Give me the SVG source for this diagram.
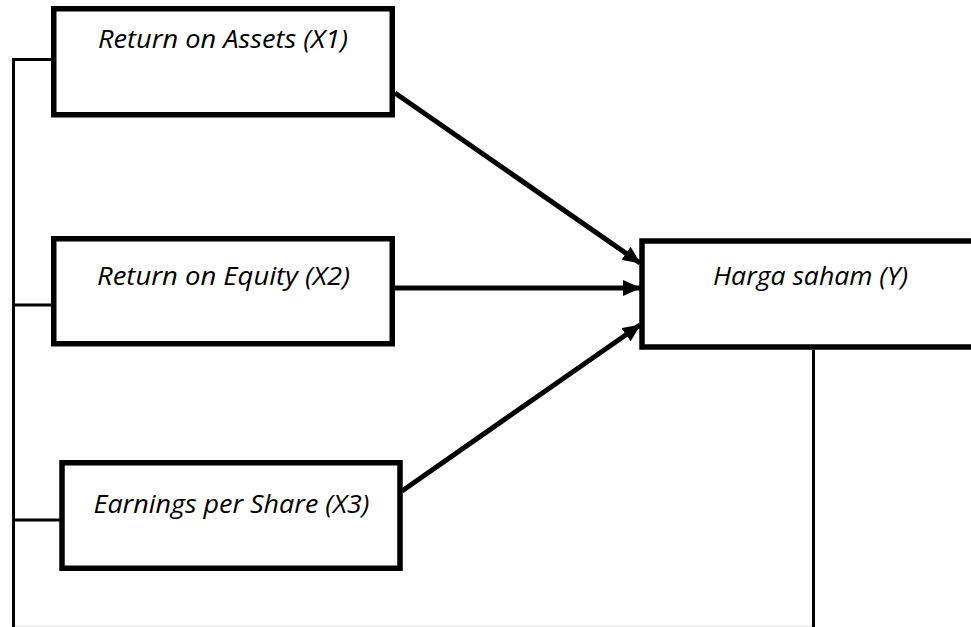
<svg xmlns="http://www.w3.org/2000/svg" width="971" height="627" viewBox="0 0 971 627">
  <style>
    .box { fill: #ffffff; stroke: #000000; stroke-width: 5.5; }
    .lbl { font-family: "Open Sans", "Liberation Sans", sans-serif; font-style: italic; font-size: 26px; fill: #000000; }
    .thin { fill: none; stroke: #000000; stroke-width: 3; }
    .arrow { fill: none; stroke: #000000; stroke-width: 5; marker-end: url(#head); }
  </style>
  <defs>
    <marker id="head" markerUnits="userSpaceOnUse" markerWidth="18" markerHeight="16" viewBox="0 0 18 16" refX="17" refY="8" orient="auto">
      <path d="M0,0 L18,8 L0,16 Z" fill="#000000"/>
    </marker>
  </defs>
  <rect width="971" height="627" fill="#ffffff"/>
  <line x1="15" y1="626" x2="812" y2="626" stroke="#e8e8e8" stroke-width="1.5"/>

  <g id="connectors">
    <polyline class="thin" points="53,59.5 13.5,59.5 13.5,627"/>
    <line class="thin" x1="13.5" y1="305" x2="53" y2="305"/>
    <line class="thin" x1="13.5" y1="520" x2="61" y2="520"/>
    <line class="thin" x1="813.5" y1="350" x2="813.5" y2="627"/>
    <line class="arrow" x1="395" y1="93" x2="640" y2="263"/>
    <line class="arrow" x1="395" y1="288" x2="640" y2="288"/>
    <line class="arrow" x1="402" y1="491" x2="640" y2="325"/>
  </g>

  <g id="node-x1">
    <rect class="box" x="53.75" y="8.75" width="338.5" height="106"/>
    <text class="lbl" x="98" y="48" textLength="250" lengthAdjust="spacingAndGlyphs">Return on Assets (X1)</text>
  </g>
  <g id="node-x2">
    <rect class="box" x="53.75" y="238.75" width="338.5" height="105"/>
    <text class="lbl" x="97" y="285" textLength="253" lengthAdjust="spacingAndGlyphs">Return on Equity (X2)</text>
  </g>
  <g id="node-x3">
    <rect class="box" x="62" y="462.75" width="338" height="105.5"/>
    <text class="lbl" x="93.5" y="513" textLength="276" lengthAdjust="spacingAndGlyphs">Earnings per Share (X3)</text>
  </g>
  <g id="node-y">
    <rect class="box" x="642" y="241" width="340" height="106"/>
    <text class="lbl" x="713" y="285" textLength="195" lengthAdjust="spacingAndGlyphs">Harga saham (Y)</text>
  </g>
</svg>
